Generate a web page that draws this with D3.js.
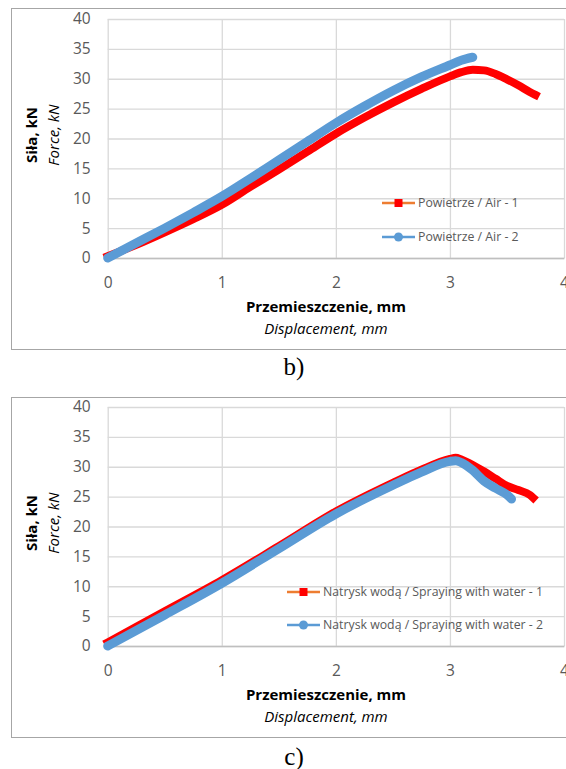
<!DOCTYPE html>
<html>
<head>
<meta charset="utf-8">
<script src="https://cdn.jsdelivr.net/npm/d3@7"></script>
<style>
  body { margin: 0; background: #fff; }
  svg text { font-family: "Open Sans", "Noto Sans", sans-serif; }
</style>
</head>
<body>
<div id="chart"></div>
<script>
// osie
const xTicks = [0, 1, 2, 3, 4];
const yTicks = [0, 5, 10, 15, 20, 25, 30, 35, 40];

// b) Powietrze / Air
const air1Disp = [0, 0.25, 0.5, 0.75, 1, 1.25, 1.5, 1.75, 2, 2.25, 2.5, 2.75, 3, 3.1, 3.2, 3.3, 3.4, 3.5, 3.6, 3.7, 3.75];
const air1Force = [0.3, 2.2, 4.3, 6.5, 8.9, 11.9, 14.8, 17.8, 20.8, 23.5, 26.0, 28.3, 30.4, 31.1, 31.5, 31.4, 30.8, 29.9, 28.9, 27.8, 27.3];
const air2Disp = [0, 0.25, 0.5, 0.75, 1, 1.25, 1.5, 1.75, 2, 2.25, 2.5, 2.75, 3, 3.1, 3.2];
const air2Force = [0, 2.5, 5.0, 7.6, 10.3, 13.3, 16.4, 19.5, 22.6, 25.4, 28.0, 30.3, 32.3, 33.1, 33.6];

// c) Natrysk wodą / Spraying with water
const water1Disp = [0, 0.5, 1, 1.5, 2, 2.5, 2.75, 3, 3.05, 3.1, 3.2, 3.3, 3.4, 3.5, 3.6, 3.7, 3.73];
const water1Force = [0.6, 5.8, 11.0, 16.7, 22.5, 27.3, 29.5, 31.3, 31.5, 31.2, 30.3, 29.2, 28.0, 26.8, 26.1, 25.3, 24.8];
const water2Disp = [0, 0.5, 1, 1.5, 2, 2.5, 2.75, 3, 3.05, 3.1, 3.2, 3.3, 3.4, 3.5, 3.54];
const water2Force = [0, 5.2, 10.5, 16.3, 22.1, 26.9, 29.1, 30.9, 31.0, 30.7, 29.4, 27.6, 26.4, 25.3, 24.6];

const panels = [
  {
    top: 8, bottom: 349, plotTop: 19, plotBottom: 258, label: "b)", labelY: 375,
    legendX: 382, legendY: [203, 237],
    series: [
      { name: "Powietrze / Air - 1", x: air1Disp, y: air1Force, kind: "square" },
      { name: "Powietrze / Air - 2", x: air2Disp, y: air2Force, kind: "circle" }
    ]
  },
  {
    top: 397, bottom: 737, plotTop: 407, plotBottom: 646, label: "c)", labelY: 765,
    legendX: 287, legendY: [592, 625],
    series: [
      { name: "Natrysk wodą / Spraying with water - 1", x: water1Disp, y: water1Force, kind: "square" },
      { name: "Natrysk wodą / Spraying with water - 2", x: water2Disp, y: water2Force, kind: "circle" }
    ]
  }
];

const svg = d3.select("#chart").append("svg")
  .attr("width", 566)
  .attr("height", 769);
svg.append("rect").attr("width", 566).attr("height", 769).attr("fill", "#fff");

const plotLeft = 107.7, plotRight = 564;

panels.forEach((p) => {
  const g = svg.append("g");

  // ramka wykresu
  g.append("rect")
    .attr("x", 11.5).attr("y", p.top + 0.5)
    .attr("width", 570).attr("height", p.bottom - p.top)
    .attr("fill", "none").attr("stroke", "#a6a6a6").attr("stroke-width", 1);

  const x = d3.scaleLinear().domain([0, 4]).range([plotLeft, plotRight]);
  const y = d3.scaleLinear().domain([0, 40]).range([p.plotBottom, p.plotTop]);

  // siatka pionowa
  g.append("g")
    .attr("transform", `translate(0, ${p.plotBottom})`)
    .call(d3.axisBottom(x).tickValues(xTicks).tickSize(-(p.plotBottom - p.plotTop)).tickFormat(""))
    .call((a) => a.select(".domain").remove())
    .call((a) => a.selectAll("line").attr("stroke", "#d9d9d9").attr("stroke-width", 1.3));

  // siatka pozioma + etykiety Y
  g.append("g")
    .attr("transform", `translate(${plotLeft}, 0)`)
    .call(d3.axisLeft(y).tickValues(yTicks).tickSize(-(plotRight - plotLeft)).tickPadding(17).tickFormat(d3.format("d")))
    .call((a) => a.select(".domain").remove())
    .call((a) => a.selectAll("line").attr("stroke", "#d9d9d9").attr("stroke-width", 1.3))
    .call((a) => a.selectAll("text").attr("fill", "#595959").style("font-size", "15.5px"));

  // os X (etykiety)
  g.append("g")
    .attr("transform", `translate(0, ${p.plotBottom})`)
    .call(d3.axisBottom(x).tickValues(xTicks).tickSize(0).tickPadding(19).tickFormat(d3.format("d")))
    .call((a) => a.select(".domain").attr("stroke", "#bfbfbf").attr("stroke-width", 1.3))
    .call((a) => a.selectAll("text").attr("fill", "#595959").style("font-size", "15.5px"));

  // serie
  const line = d3.line().curve(d3.curveMonotoneX);
  p.series.forEach((s) => {
    const pts = s.x.map((d, i) => [x(d), y(s.y[i])]);
    g.append("path")
      .attr("d", line(pts))
      .attr("fill", "none")
      .attr("stroke", s.kind === "square" ? "#ff0000" : "#5b9bd5")
      .attr("stroke-width", s.kind === "square" ? 8 : 9)
      .attr("stroke-linecap", s.kind === "square" ? "square" : "round")
      .attr("stroke-linejoin", "round");
  });

  // legenda
  p.series.forEach((s, i) => {
    const ly = p.legendY[i];
    const lg = g.append("g");
    lg.append("line")
      .attr("x1", p.legendX).attr("x2", p.legendX + 33)
      .attr("y1", ly).attr("y2", ly)
      .attr("stroke", s.kind === "square" ? "#ed7d31" : "#5b9bd5")
      .attr("stroke-width", 2.5);
    if (s.kind === "square") {
      lg.append("rect")
        .attr("x", p.legendX + 16.5 - 4).attr("y", ly - 4)
        .attr("width", 8).attr("height", 8).attr("fill", "#ff0000");
    } else {
      lg.append("circle")
        .attr("cx", p.legendX + 16.5).attr("cy", ly).attr("r", 4.5)
        .attr("fill", "#5b9bd5");
    }
    lg.append("text")
      .attr("x", p.legendX + 36).attr("y", ly)
      .attr("dy", "0.35em")
      .attr("fill", "#595959")
      .style("font-size", "12.3px")
      .text(s.name);
  });

  // tytuly osi
  g.append("text")
    .attr("x", 326).attr("y", p.plotBottom + 54)
    .attr("text-anchor", "middle")
    .style("font-size", "15px").style("font-weight", "bold")
    .attr("fill", "#000")
    .text("Przemieszczenie, mm");
  g.append("text")
    .attr("x", 326).attr("y", p.plotBottom + 76)
    .attr("text-anchor", "middle")
    .style("font-size", "15px").style("font-style", "italic")
    .attr("fill", "#000")
    .text("Displacement, mm");

  const midY = p.plotTop + 116;
  g.append("text")
    .attr("transform", `translate(37, ${midY}) rotate(-90)`)
    .attr("text-anchor", "middle")
    .style("font-size", "15px").style("font-weight", "bold")
    .attr("fill", "#000")
    .text("Siła, kN");
  g.append("text")
    .attr("transform", `translate(59, ${midY}) rotate(-90)`)
    .attr("text-anchor", "middle")
    .style("font-size", "15px").style("font-style", "italic")
    .attr("fill", "#000")
    .text("Force, kN");

  // podpis panelu
  svg.append("text")
    .attr("x", 294).attr("y", p.labelY)
    .attr("text-anchor", "middle")
    .style("font-family", "'Liberation Serif', 'DejaVu Serif', serif")
    .style("font-size", "25px")
    .attr("fill", "#000")
    .text(p.label);
});
</script>
</body>
</html>
